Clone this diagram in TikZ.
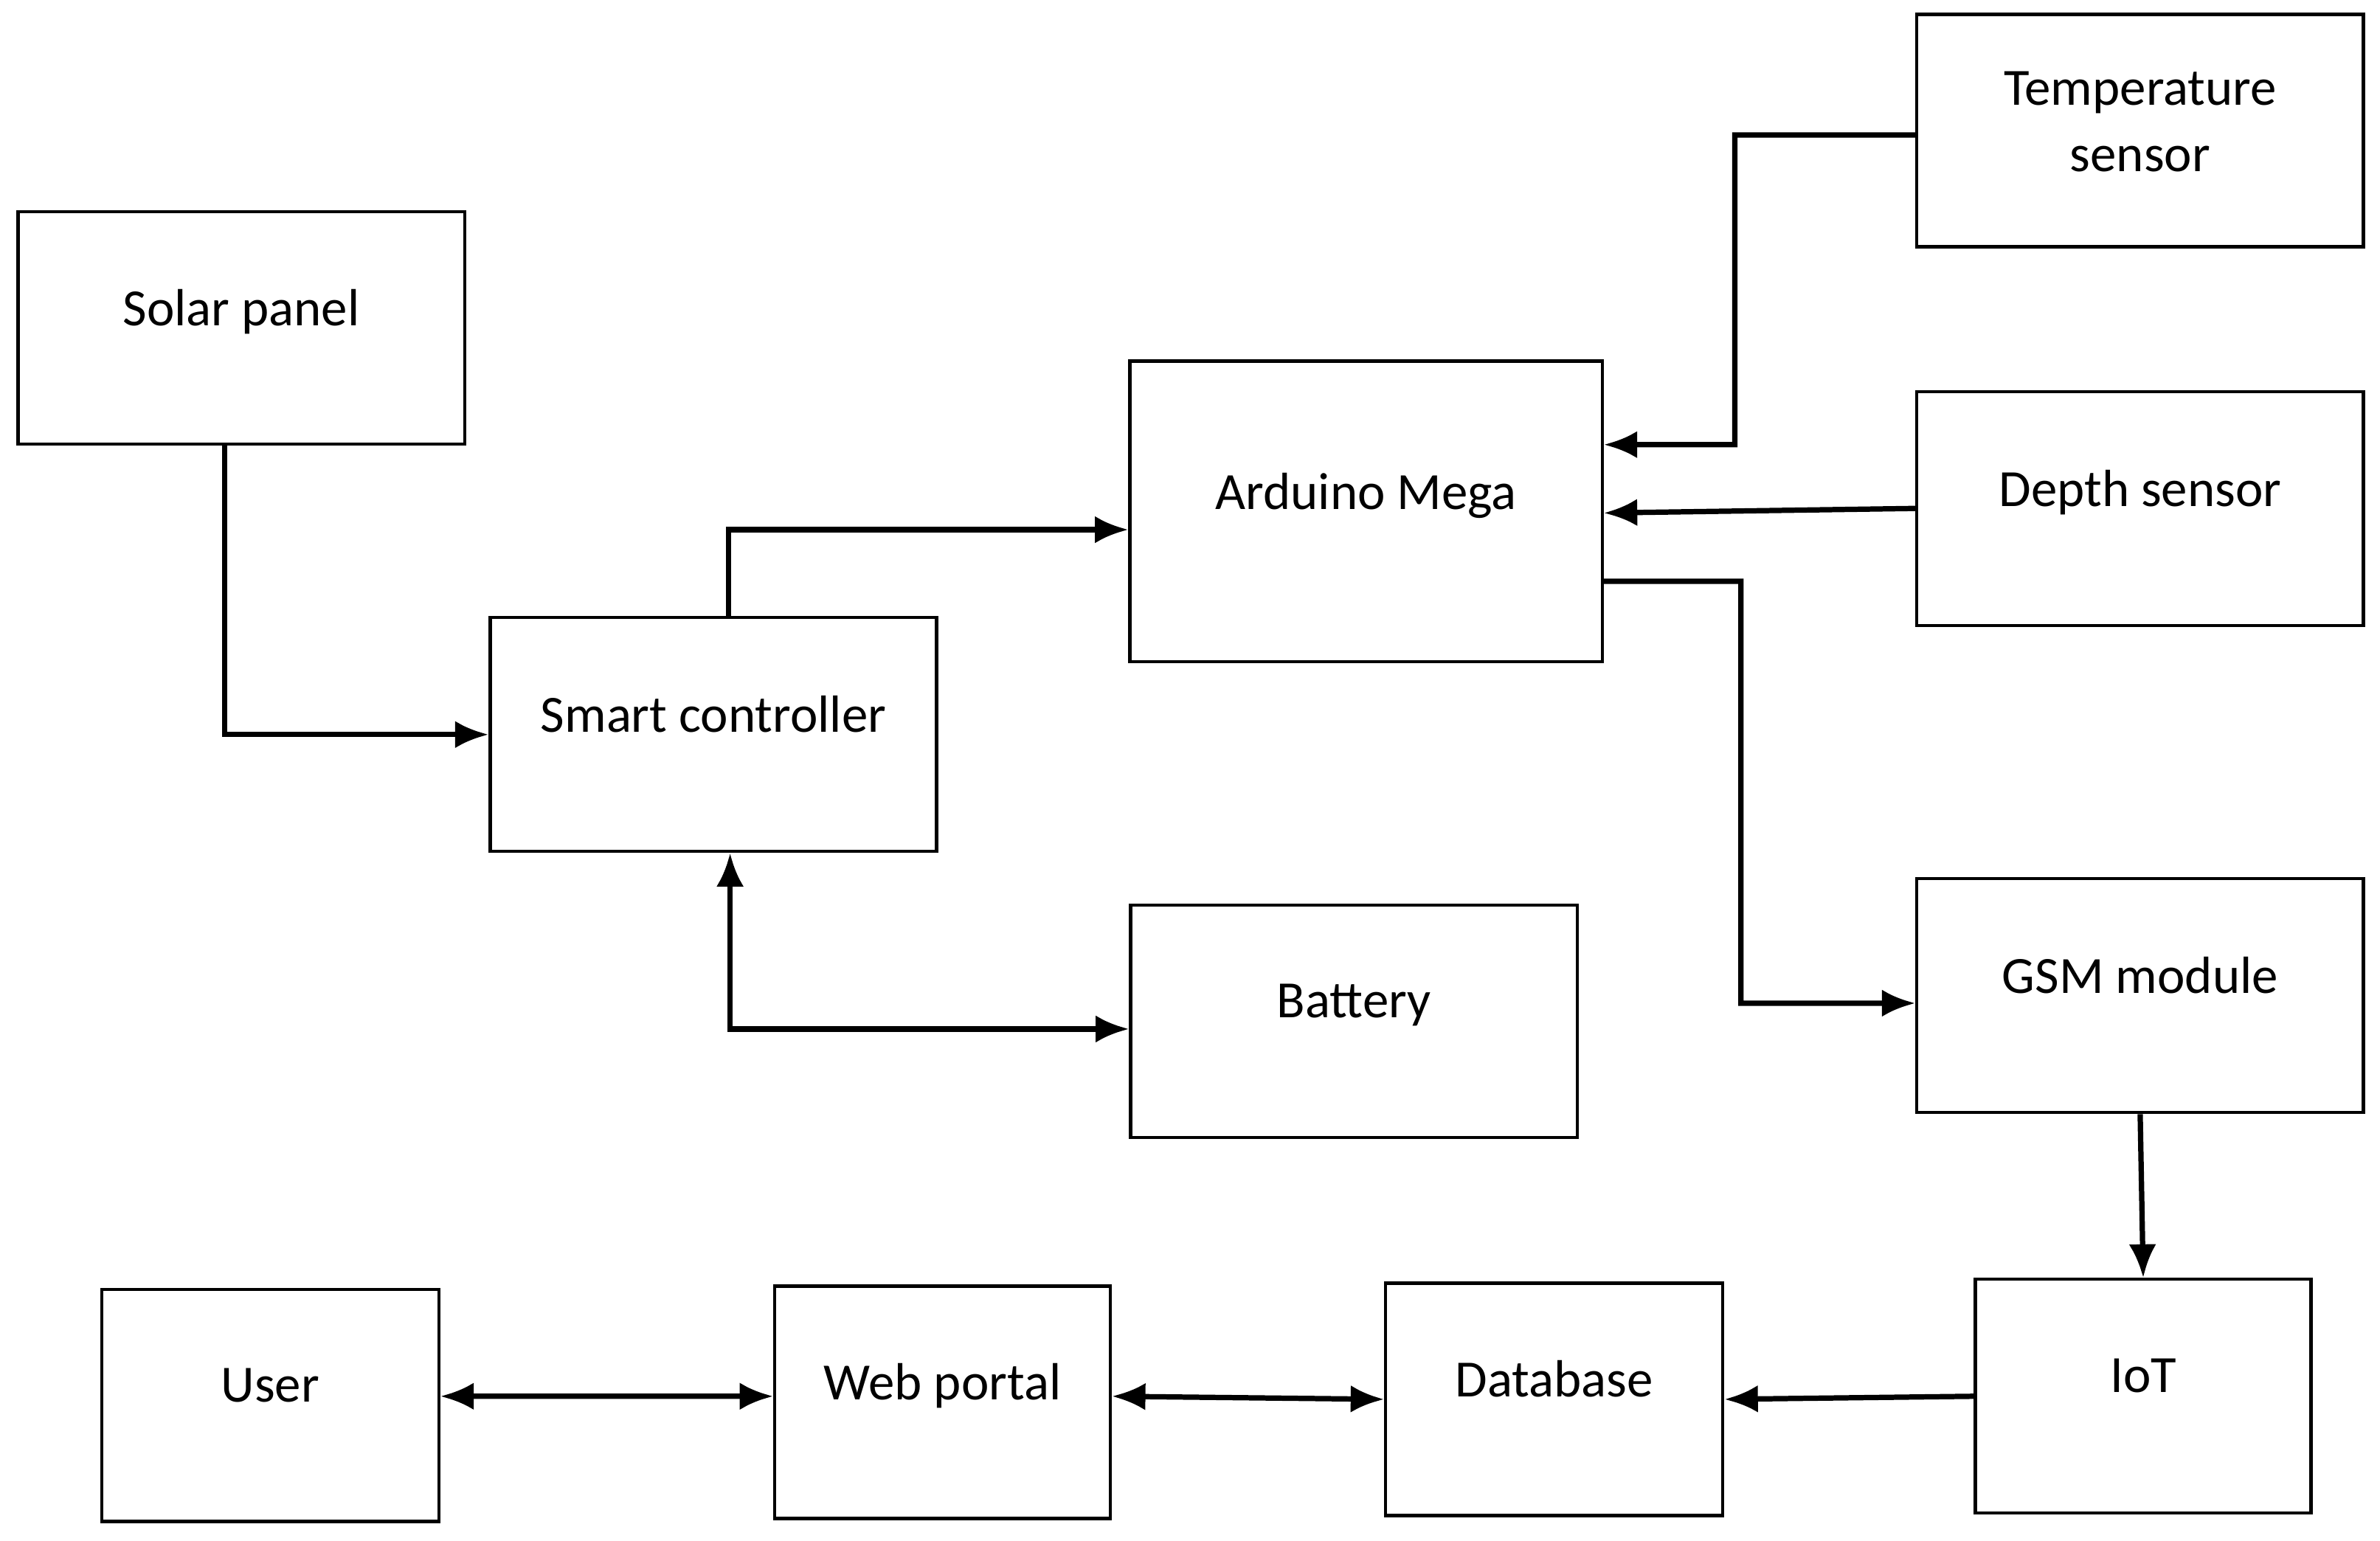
\documentclass[tikz,border=0pt]{standalone}
\usepackage{fontspec}
\setmainfont{Carlito}
\usetikzlibrary{arrows.meta}
\begin{document}
\begin{tikzpicture}[x=0.01cm, y=-0.01cm,
  blk/.style={draw, line width=0.6pt, inner sep=0pt, align=center, text depth=0.27cm, font=\fontsize{9.8}{12.5}\selectfont},
  link/.style={line width=1pt, -{Latex[length=2.2mm,width=1.8mm]}},
  both/.style={line width=1pt, {Latex[length=2.2mm,width=1.8mm]}-{Latex[length=2.2mm,width=1.8mm]}}]

\useasboundingbox (0,0) rectangle (1568,1015);

% power side
\node[blk, minimum width=2.94cm, minimum height=1.53cm] (solar) at (159,216) {Solar panel};
\node[blk, minimum width=2.94cm, minimum height=1.54cm] (ctrl) at (470,484) {Smart controller};
\node[blk, minimum width=2.94cm, minimum height=1.53cm] (batt) at (892,673) {Battery};

% controller and sensors
\node[blk, minimum width=3.11cm, minimum height=1.98cm] (mega) at (900,337) {Arduino Mega};
\node[blk, text depth=0.12cm, minimum width=2.94cm, minimum height=1.53cm] (temp) at (1410,86) {Temperature\\sensor};
\node[blk, minimum width=2.94cm, minimum height=1.54cm] (depth) at (1410,335) {Depth sensor};
\node[blk, minimum width=2.94cm, minimum height=1.54cm] (gsm) at (1410,656) {GSM module};

% bottom row
\node[blk, minimum width=2.21cm, minimum height=1.54cm] (iot) at (1412,920) {IoT};
\node[blk, minimum width=2.22cm, minimum height=1.53cm] (db) at (1024,922) {Database};
\node[blk, minimum width=2.21cm, minimum height=1.53cm] (web) at (621,924) {Web portal};
\node[blk, minimum width=2.22cm, minimum height=1.53cm] (user) at (178,926) {User};

% connectors
\draw[link] ([xshift=-0.11cm]solar.south) |- (ctrl.west);
\draw[link] ([xshift=0.1cm]ctrl.north) |- ([yshift=-0.12cm]mega.west);
\draw[both] ([xshift=0.11cm]ctrl.south) |- ([yshift=-0.05cm]batt.west);
\draw[link] ([yshift=-0.03cm]temp.west) -| (1143,293) -- ([yshift=0.44cm]mega.east);
\draw[link] (depth.west) -- ([yshift=-0.01cm]mega.east);
\draw[link] ([yshift=-0.46cm]mega.east) -| (1147,661) -- ([yshift=-0.05cm]gsm.west);
\draw[link] (gsm.south) -- (iot.north);
\draw[link] (iot.west) -- (db.east);
\draw[both] (db.west) -- ([yshift=0.04cm]web.east);
\draw[both] ([yshift=0.04cm]web.west) -- ([yshift=0.06cm]user.east);

\end{tikzpicture}
\end{document}
